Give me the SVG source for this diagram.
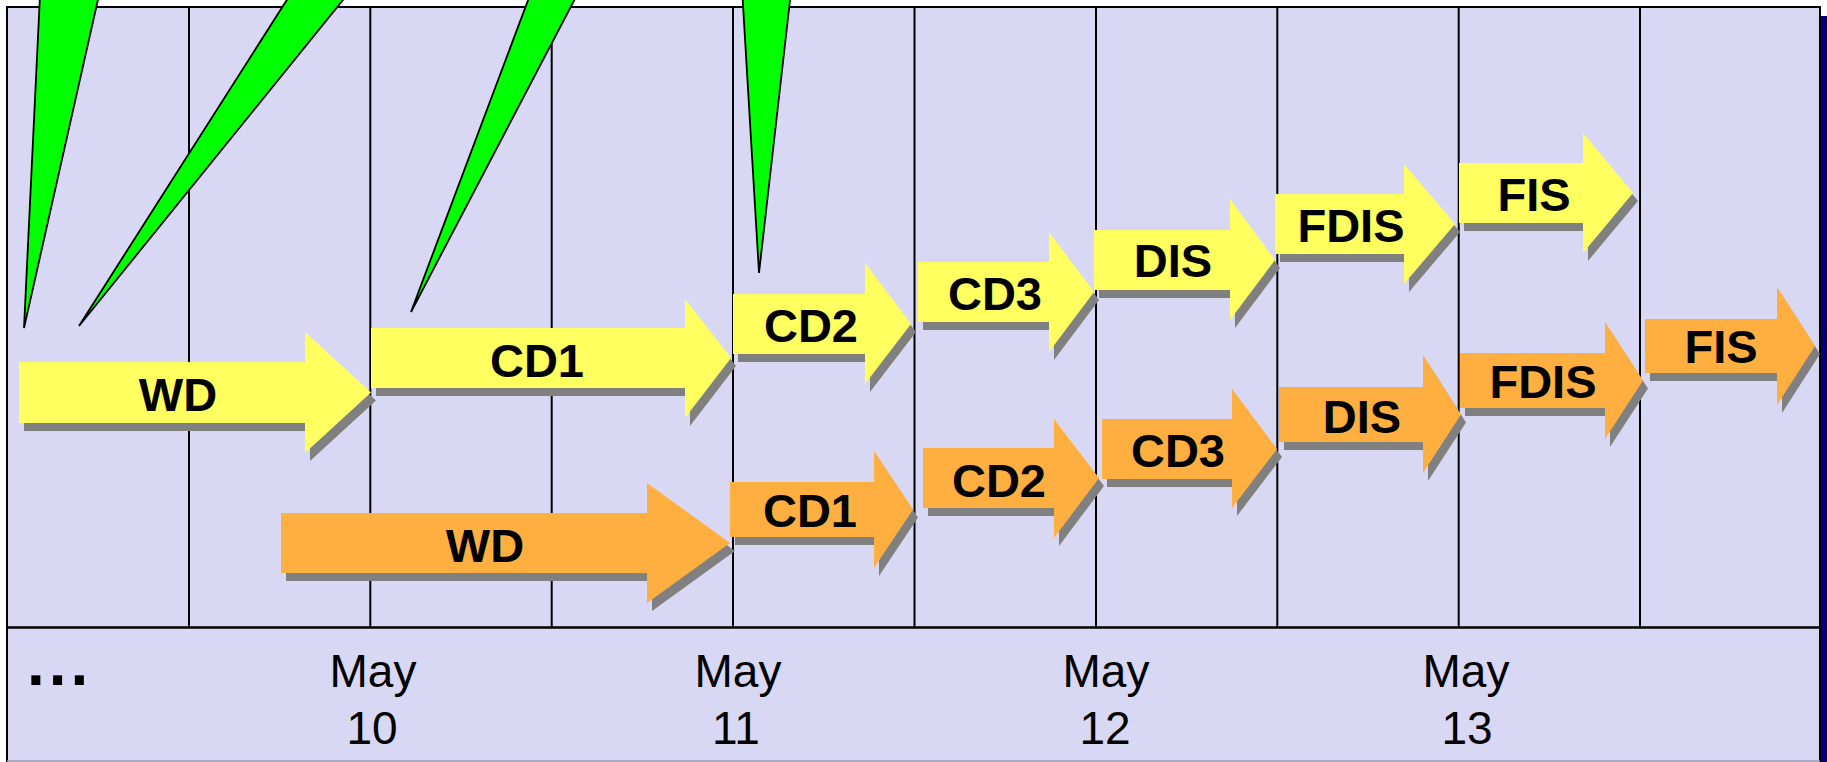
<svg xmlns="http://www.w3.org/2000/svg" xmlns:xlink="http://www.w3.org/1999/xlink" width="1827" height="762" viewBox="0 0 1827 762">
<style>
.bg{fill:#D8D8F4;stroke:none}
.grid{stroke:#000;stroke-width:2;fill:none}
.sh{fill:#808080}
.ye{fill:#FFFF60}
.or{fill:#FFAF40}
.spike{fill:#00FF00;stroke:#000;stroke-width:1.8;stroke-linejoin:miter}
.lbl{font-family:"Liberation Sans",Arial,sans-serif;font-weight:bold;font-size:47px;fill:#000;text-anchor:middle}
.date{font-family:"Liberation Sans",Arial,sans-serif;font-size:46px;fill:#000;text-anchor:middle}
</style>
<rect x="0" y="0" width="1827" height="762" fill="#FFFFFF"/>
<g id="frame">
<rect x="1821" y="16" width="10" height="760" fill="#000080"/>
<rect class="bg" x="7" y="7" width="1813" height="760"/>
<line class="grid" x1="7" y1="7" x2="1820" y2="7"/>
<line class="grid" x1="7" y1="6" x2="7" y2="762"/>
<line class="grid" x1="1820" y1="6" x2="1820" y2="762"/>
<line x1="7" y1="761" x2="1820" y2="761" stroke="#9A9AB4" stroke-width="1.5"/>
<line x1="7" y1="627.5" x2="1820" y2="627.5" stroke="#000" stroke-width="2.5"/>
</g>
<g id="grid">
<line class="grid" x1="189" y1="7" x2="189" y2="627"/>
<line class="grid" x1="370.3" y1="7" x2="370.3" y2="627"/>
<line class="grid" x1="551.7" y1="7" x2="551.7" y2="627"/>
<line class="grid" x1="733" y1="7" x2="733" y2="627"/>
<line class="grid" x1="914.5" y1="7" x2="914.5" y2="627"/>
<line class="grid" x1="1096" y1="7" x2="1096" y2="627"/>
<line class="grid" x1="1277.3" y1="7" x2="1277.3" y2="627"/>
<line class="grid" x1="1458.7" y1="7" x2="1458.7" y2="627"/>
<line class="grid" x1="1640" y1="7" x2="1640" y2="627"/>
</g>
<g id="spikes">
<polygon id="spike1" class="spike" points="24,328 40,-5 99,-5"/>
<polygon id="spike2" class="spike" points="79,326 290,-5 347,-5"/>
<polygon id="spike3" class="spike" points="411,312 530,-5 577,-5"/>
<polygon id="spike4" class="spike" points="759,273 742.4,-5 790.6,-5"/>
</g>
<g id="y-wd">
<polygon class="sh" transform="translate(5,8)" points="19,362 305,362 305,332 371,392.5 305,453 305,423 19,423"/>
<polygon class="ye" points="19,362 305,362 305,332 371,392.5 305,453 305,423 19,423"/>
<text class="lbl" x="178" y="411">WD</text>
</g>
<g id="y-cd1">
<polygon class="sh" transform="translate(5,8)" points="371,328 685,328 685,299 731,358 685,418 685,388 371,388"/>
<polygon class="ye" points="371,328 685,328 685,299 731,358 685,418 685,388 371,388"/>
<text class="lbl" x="537" y="377">CD1</text>
</g>
<g id="y-cd2">
<polygon class="sh" transform="translate(5,8)" points="733,294 865,294 865,263 911,324 865,384 865,354 733,354"/>
<polygon class="ye" points="733,294 865,294 865,263 911,324 865,384 865,354 733,354"/>
<text class="lbl" x="811" y="342">CD2</text>
</g>
<g id="y-cd3">
<polygon class="sh" transform="translate(5,8)" points="918,262 1049,262 1049,232 1094,292 1049,352 1049,322 918,322"/>
<polygon class="ye" points="918,262 1049,262 1049,232 1094,292 1049,352 1049,322 918,322"/>
<text class="lbl" x="995" y="310">CD3</text>
</g>
<g id="y-dis">
<polygon class="sh" transform="translate(5,8)" points="1094,230 1230,230 1230,199 1275,260 1230,320 1230,290 1094,290"/>
<polygon class="ye" points="1094,230 1230,230 1230,199 1275,260 1230,320 1230,290 1094,290"/>
<text class="lbl" x="1173" y="277">DIS</text>
</g>
<g id="y-fdis">
<polygon class="sh" transform="translate(5,8)" points="1275,194 1404,194 1404,164 1455,224 1404,284 1404,254 1275,254"/>
<polygon class="ye" points="1275,194 1404,194 1404,164 1455,224 1404,284 1404,254 1275,254"/>
<text class="lbl" x="1351" y="242">FDIS</text>
</g>
<g id="y-fis">
<polygon class="sh" transform="translate(5,8)" points="1459,163 1583,163 1583,133 1633,193 1583,253 1583,223 1459,223"/>
<polygon class="ye" points="1459,163 1583,163 1583,133 1633,193 1583,253 1583,223 1459,223"/>
<text class="lbl" x="1534" y="211">FIS</text>
</g>
<g id="o-wd">
<polygon class="sh" transform="translate(5,8)" points="281,513 647,513 647,483 730,543 647,603 647,573 281,573"/>
<polygon class="or" points="281,513 647,513 647,483 730,543 647,603 647,573 281,573"/>
<text class="lbl" x="485" y="562">WD</text>
</g>
<g id="o-cd1">
<polygon class="sh" transform="translate(5,8)" points="730,482 874,482 874,451 913,509.5 874,568 874,537 730,537"/>
<polygon class="or" points="730,482 874,482 874,451 913,509.5 874,568 874,537 730,537"/>
<text class="lbl" x="810" y="527">CD1</text>
</g>
<g id="o-cd2">
<polygon class="sh" transform="translate(5,8)" points="923,448 1054,448 1054,419 1099,478 1054,538 1054,508 923,508"/>
<polygon class="or" points="923,448 1054,448 1054,419 1099,478 1054,538 1054,508 923,508"/>
<text class="lbl" x="999" y="497">CD2</text>
</g>
<g id="o-cd3">
<polygon class="sh" transform="translate(5,8)" points="1102,419 1232,419 1232,389 1277,449 1232,508 1232,479 1102,479"/>
<polygon class="or" points="1102,419 1232,419 1232,389 1277,449 1232,508 1232,479 1102,479"/>
<text class="lbl" x="1178" y="467">CD3</text>
</g>
<g id="o-dis">
<polygon class="sh" transform="translate(5,8)" points="1279,387 1423,387 1423,355 1461,414.5 1423,473 1423,442 1279,442"/>
<polygon class="or" points="1279,387 1423,387 1423,355 1461,414.5 1423,473 1423,442 1279,442"/>
<text class="lbl" x="1362" y="433">DIS</text>
</g>
<g id="o-fdis">
<polygon class="sh" transform="translate(5,8)" points="1460,353 1605,353 1605,322 1643,380.5 1605,439 1605,408 1460,408"/>
<polygon class="or" points="1460,353 1605,353 1605,322 1643,380.5 1605,439 1605,408 1460,408"/>
<text class="lbl" x="1543" y="398">FDIS</text>
</g>
<g id="o-fis">
<polygon class="sh" transform="translate(5,8)" points="1645,319 1777,319 1777,287 1815,346 1777,405 1777,373 1645,373"/>
<polygon class="or" points="1645,319 1777,319 1777,287 1815,346 1777,405 1777,373 1645,373"/>
<text class="lbl" x="1721" y="363">FIS</text>
</g>
<g id="dates">
<text x="27" y="685" font-family="'Liberation Sans',Arial,sans-serif" font-weight="bold" font-size="64" letter-spacing="4" fill="#000">...</text>
<text class="date" x="373" y="687">May</text>
<text class="date" x="372" y="744">10</text>
<text class="date" x="738" y="687">May</text>
<text class="date" x="736" y="744">11</text>
<text class="date" x="1106" y="687">May</text>
<text class="date" x="1105" y="744">12</text>
<text class="date" x="1466" y="687">May</text>
<text class="date" x="1467" y="744">13</text>
</g>
</svg>
